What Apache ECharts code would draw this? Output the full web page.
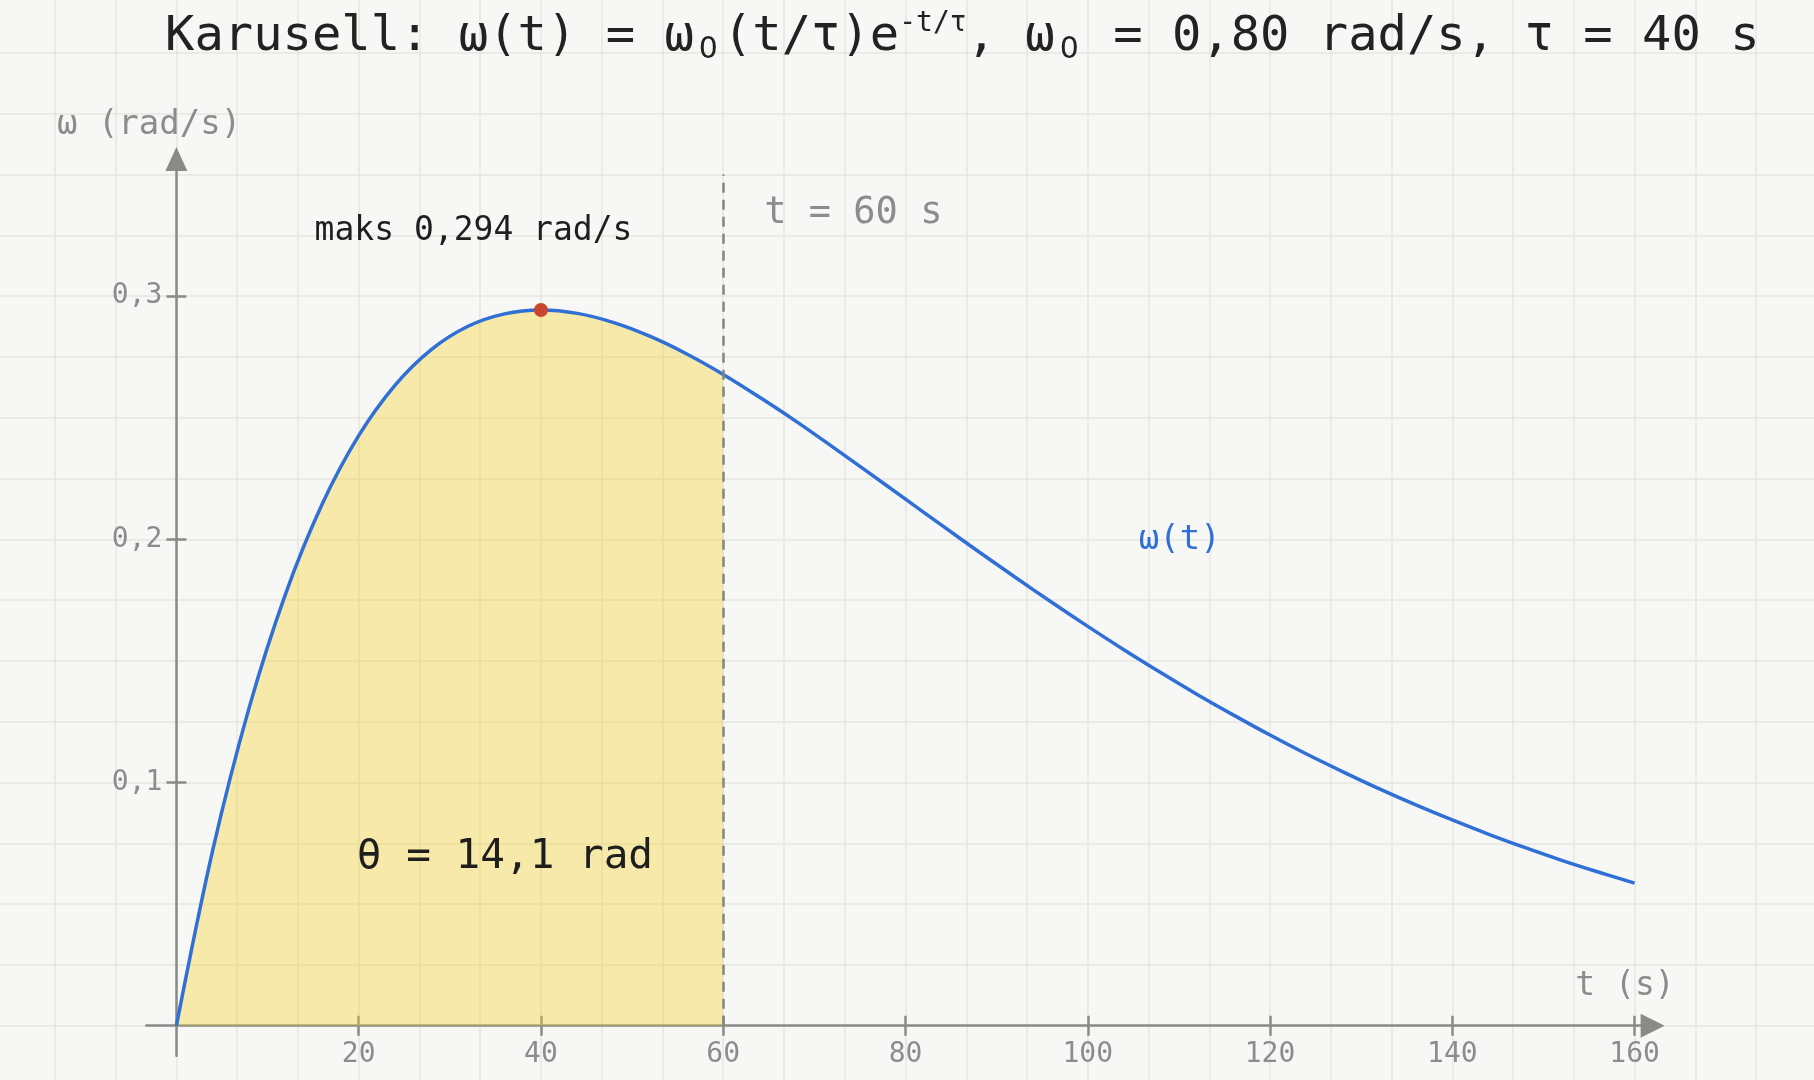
<!DOCTYPE html>
<html>
<head>
<meta charset="utf-8">
<script src="https://cdn.jsdelivr.net/npm/echarts@6/dist/echarts.min.js"></script>
<style>
html,body{margin:0;padding:0;background:#f7f7f5;}
#chart{width:1814px;height:1080px;}
</style>
</head>
<body>
<div id="chart"></div>
<script>
// ---- data ----
const tSeconds = [0,4,8,12,16,20,24,28,32,36,40,44,48,52,56,60,64,68,72,76,80,84,88,92,96,100,104,108,112,116,120,124,128,132,136,140,144,148,152,156,160];
const omega = [0,0.0724,0.1310,0.1778,0.2145,0.2426,0.2634,0.2781,0.2876,0.2927,0.2943,0.2929,0.2891,0.2834,0.2762,0.2678,0.2584,0.2485,0.2380,0.2273,0.2165,0.2057,0.1950,0.1845,0.1742,0.1642,0.1545,0.1452,0.1362,0.1277,0.1195,0.1117,0.1044,0.0974,0.0908,0.0846,0.0787,0.0732,0.0680,0.0632,0.0586];
const shadeEnd = 60;
const shadeTop = 0.35;
const peakPoint = [40, 0.2943];
const xTickValues = [20,40,60,80,100,120,140,160];
const yTickValues = [0.1,0.2,0.3];
const titleText = 'Karusell: ω(t) = ω{sub|0}(t/τ)e{sup|-t/τ}, ω{sub|0} = 0,80 rad/s, τ = 40 s';
const peakLabel = 'maks 0,294 rad/s';
const markerLabel = 't = 60 s';
const curveLabel = 'ω(t)';
const angleLabel = 'θ = 14,1 rad';
const xName = 't (s)';
const yName = 'ω (rad/s)';

const FONT = '"DejaVu Sans Mono", monospace';
const GRAY = '#8a8a86';
const LABEL_GRAY = '#8c8c8c';
const lineData = tSeconds.map((t, i) => [t, omega[i]]);
const shadeData = lineData.filter(p => p[0] <= shadeEnd);
const comma = v => String(v).replace('.', ',');

function txt(value, label, extra) {
  return { value, label: Object.assign({ formatter: label }, extra) };
}
const hidden = { axisLine: { show: false }, axisTick: { show: false }, axisLabel: { show: false }, splitLine: { show: false } };
const tickStyle = { color: GRAY, width: 2.5 };

const chart = echarts.init(document.getElementById('chart'), null, {renderer: 'canvas'});
chart.setOption({
  backgroundColor: '#f7f7f5',
  animation: false,
  title: {
    text: titleText,
    left: 160, top: 4,
    textStyle: {
      fontFamily: FONT, fontSize: 48.8, fontWeight: 'normal', color: '#222222',
      lineHeight: 56,
      rich: {
        sup: { fontFamily: FONT, fontSize: 28, color: '#222222', verticalAlign: 'top', lineHeight: 56, padding: [1,0,0,0] },
        sub: { fontFamily: '"DejaVu Sans", sans-serif', fontSize: 30, color: '#222222', verticalAlign: 'bottom', lineHeight: 36, padding: [0,5,0,5] }
      }
    }
  },
  grid: [
    { left: 176.4, right: 179.4, top: 174.5, bottom: 54.3, containLabel: false, outerBoundsMode: 'none' },
    { left: 146.4, right: 161.4, top: 159, bottom: 24.3, containLabel: false, outerBoundsMode: 'none' },
    { left: -5.9, right: -2.9, top: -7.9, bottom: -6.5, containLabel: false, outerBoundsMode: 'none' }
  ],
  xAxis: [
    { type: 'value', gridIndex: 0, min: 0, max: 160, position: 'bottom',
      axisLine: { show: false },
      axisTick: { show: true, customValues: xTickValues, length: 10, lineStyle: tickStyle },
      axisLabel: { show: true, customValues: xTickValues, margin: 15, color: LABEL_GRAY, fontFamily: FONT, fontSize: 28, formatter: comma },
      splitLine: { show: false } },
    { type: 'value', gridIndex: 0, min: 0, max: 160, position: 'bottom',
      axisLine: { show: false },
      axisTick: { show: true, inside: true, customValues: xTickValues, length: 10, lineStyle: tickStyle },
      axisLabel: { show: false }, splitLine: { show: false } },
    Object.assign({ type: 'value', gridIndex: 1, min: -3.29, max: 162 }, hidden, {
      axisLine: { show: true, onZero: true, symbol: ['none','triangle'], symbolSize: [24, 24], lineStyle: { color: GRAY, width: 2.5 } } }),
    Object.assign({ type: 'value', gridIndex: 2, min: -20, max: 180, interval: 20/3 }, hidden, {
      splitLine: { show: true, lineStyle: { color: '#e6e6e1', width: 1.5 } } })
  ],
  yAxis: [
    { type: 'value', gridIndex: 0, min: 0, max: 0.35, position: 'left',
      axisLine: { show: false },
      axisTick: { show: true, customValues: yTickValues, length: 10, lineStyle: tickStyle },
      axisLabel: { show: true, customValues: yTickValues, margin: 14, color: LABEL_GRAY, fontFamily: FONT, fontSize: 28, formatter: comma },
      splitLine: { show: false } },
    { type: 'value', gridIndex: 0, min: 0, max: 0.35, position: 'left',
      axisLine: { show: false },
      axisTick: { show: true, inside: true, customValues: yTickValues, length: 10, lineStyle: tickStyle },
      axisLabel: { show: false }, splitLine: { show: false } },
    Object.assign({ type: 'value', gridIndex: 1, min: -0.01234, max: 0.3564 }, hidden, {
      axisLine: { show: true, onZero: true, symbol: ['none','triangle'], symbolSize: [22, 24], lineStyle: { color: GRAY, width: 2.5 } } }),
    Object.assign({ type: 'value', gridIndex: 2, min: -0.025, max: 0.425, interval: 0.025 }, hidden, {
      splitLine: { show: true, lineStyle: { color: '#e6e6e1', width: 1.5 } } })
  ],
  series: [
    { type: 'line', name: 'theta', xAxisIndex: 0, yAxisIndex: 0, data: shadeData, smooth: 0.35,
      showSymbol: false, lineStyle: { width: 0 }, areaStyle: { color: 'rgba(244,210,48,0.38)', opacity: 1 }, z: 2,
      markLine: { silent: true, symbol: ['none','none'], label: { show: false },
        lineStyle: { color: '#858581', type: [10, 7], width: 2.5, opacity: 1 },
        data: [[{ coord: [shadeEnd, 0] }, { coord: [shadeEnd, shadeTop] }]] } },
    { type: 'line', name: 'omega', xAxisIndex: 0, yAxisIndex: 0, data: lineData, smooth: 0.35,
      showSymbol: false, lineStyle: { width: 3.5, color: '#2f6fd6' }, z: 4 },
    { type: 'scatter', xAxisIndex: 0, yAxisIndex: 0, data: [peakPoint], symbolSize: 14,
      itemStyle: { color: '#c9452f', opacity: 1 }, z: 5 },
    { type: 'scatter', xAxisIndex: 0, yAxisIndex: 0, symbolSize: 0, clip: false, silent: true, z: 6,
      itemStyle: { opacity: 1 },
      label: { show: true, fontFamily: FONT },
      data: [
        txt([32.6, 0.3266], peakLabel, { position: 'inside', fontSize: 33, color: '#1e1e1e' }),
        txt([64.5, 0.334], markerLabel, { position: 'right', distance: 0, fontSize: 37, color: LABEL_GRAY }),
        txt([105.6, 0.1997], curveLabel, { position: 'right', distance: 0, fontSize: 34, color: '#2f6fd6' }),
        txt([36.05, 0.0693], angleLabel, { position: 'inside', fontSize: 41, color: '#1e1e1e' }),
        txt([153.5, 0.016], xName, { position: 'right', distance: 0, fontSize: 33, color: LABEL_GRAY }),
        txt([-3.0, 0.3704], yName, { position: 'inside', fontSize: 34, color: LABEL_GRAY })
      ] }
  ]
});
</script>
</body>
</html>
